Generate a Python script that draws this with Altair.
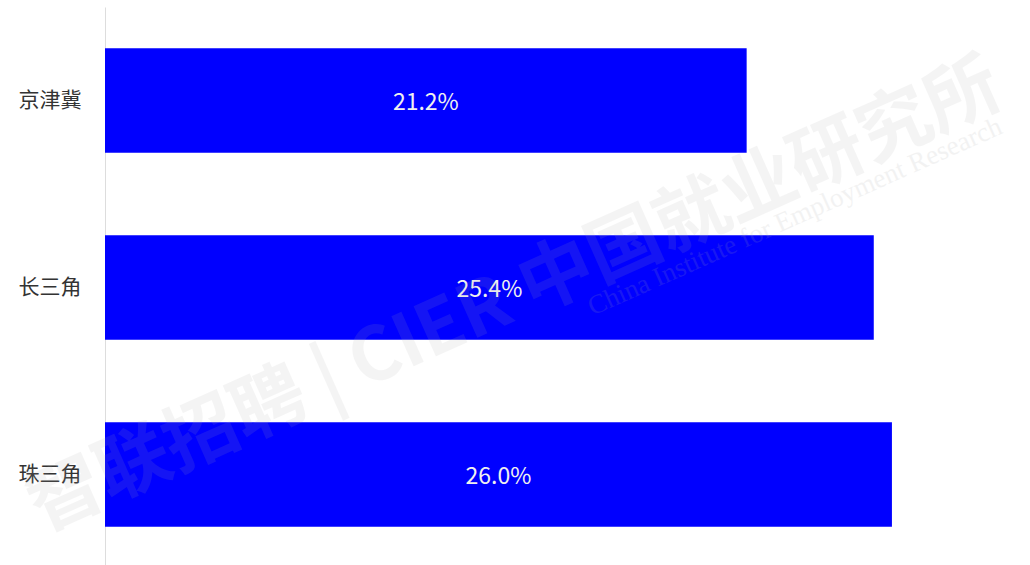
import altair as alt
import pandas as pd

regions = ["京津冀", "长三角", "珠三角"]
values = [21.2, 25.4, 26.0]
labels = ["21.2%", "25.4%", "26.0%"]

df = pd.DataFrame({"region": regions, "value": values, "label": labels})
df["mid"] = df["value"] / 2

FONT = "Noto Sans CJK SC"

axis_y = alt.Axis(labelFontSize=21, labelColor="#333333", labelFont=FONT,
                  ticks=False, domainColor="#dddddd", labelPadding=24,
                  grid=False)
yscale = alt.Scale(paddingInner=0.44, paddingOuter=0.22)
xs = alt.Scale(domain=[0, 30])

bars = alt.Chart(df).mark_bar(color="#0000ff").encode(
    y=alt.Y("region:N", sort=regions, title=None, scale=yscale, axis=axis_y),
    x=alt.X("value:Q", scale=xs, axis=None),
)

text = alt.Chart(df).mark_text(color="#f0f0f0", fontSize=23, font=FONT, dy=2).encode(
    y=alt.Y("region:N", sort=regions, title=None, scale=yscale, axis=axis_y),
    x=alt.X("mid:Q", scale=xs, axis=None),
    text="label:N",
)

wm = pd.DataFrame({"t": ["智联招聘 | CIER 中国就业研究所"]})
water = alt.Chart(wm).mark_text(fontSize=74, font=FONT, fontWeight="bold",
                                angle=336, color="#aaaaaa", opacity=0.12).encode(
    x=alt.value(410), y=alt.value(290), text="t:N")
wm2 = pd.DataFrame({"t": ["China Institute for Employment Research"]})
water2 = alt.Chart(wm2).mark_text(fontSize=27, font="Liberation Serif",
                                  angle=336, color="#aaaaaa", opacity=0.14).encode(
    x=alt.value(690), y=alt.value(210), text="t:N")

chart = alt.layer(bars, text, water, water2).properties(
    width=908, height=561,
    background="white",
    autosize=alt.AutoSizeParams(type="none"),
    padding={"left": 105, "top": 7, "right": 0, "bottom": 0},
).configure_view(stroke="transparent", strokeWidth=0)

chart.save("out.html", embed_options={"renderer": "svg", "actions": False})
